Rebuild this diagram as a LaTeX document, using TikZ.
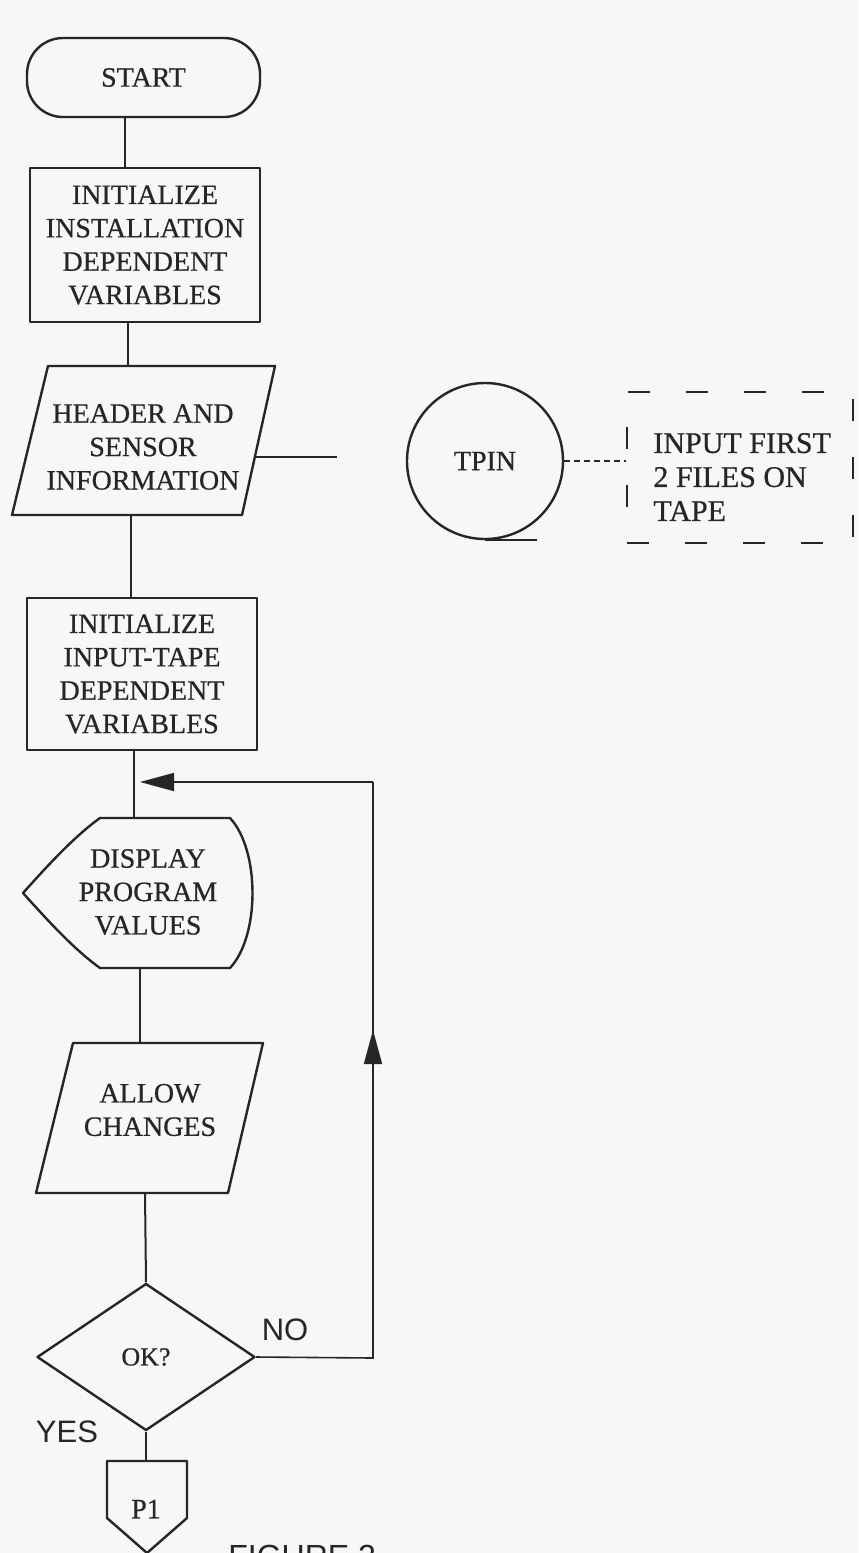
\documentclass[tikz,border=0pt]{standalone}
\usepackage{fontspec}
\setmainfont[FakeBold=0.6]{Liberation Serif}
\setsansfont{Liberation Sans}
\usetikzlibrary{shapes.geometric,arrows.meta,calc}
\newdimen\px \px=0.5pt
\definecolor{ink}{gray}{0.15}
\definecolor{paper}{gray}{0.97}

\begin{document}
\begin{tikzpicture}[x=0.5pt,y=-0.5pt,
  outline/.style={draw=ink, line width=1.2pt, line join=round},
  proc/.style={outline, rectangle, inner sep=0pt, align=center, text=ink,
    font=\fontsize{14}{16.7}\selectfont},
  txt/.style={inner sep=0pt, align=center, text=ink,
    font=\fontsize{14}{16.7}\selectfont},
  flow/.style={draw=ink, line width=1pt},
  loopline/.style={draw=ink, line width=0.8pt},
  tip/.style={-{Triangle[length=17pt,width=9pt]}},
  lbl/.style={inner sep=0pt, text=ink, font=\sffamily\fontsize{15.5}{18}\selectfont},
  notebox/.style={draw=ink, line width=1.1pt, dash pattern=on 11pt off 18pt,
    rectangle, inner sep=0pt}]

\useasboundingbox (0,0) rectangle (858,1553);
\clip (0,0) rectangle (858,1553);
\fill[paper] (0,0) rectangle (858,1553);

% terminal and first process box
\node[proc, minimum width=233\px, minimum height=79\px, rounded corners=36\px]
  (start) at (143.5,77.5) {START};
\node[proc, minimum width=230\px, minimum height=154\px]
  (init1) at (145,245) {INITIALIZE\\INSTALLATION\\DEPENDENT\\VARIABLES};

% input parallelogram: header and sensor information
\draw[outline] (48,366) -- (275,366) -- (242,515) -- (12,515) -- cycle;
\node[txt] (hdr) at (143,447) {HEADER AND\\SENSOR\\INFORMATION};

% tape symbol and its annotation
\node[outline, circle, minimum size=156\px, inner sep=0pt, text=ink,
  font=\fontsize{14}{16.7}\selectfont] (tpin) at (485,461) {TPIN};
\draw[outline] (tpin.south) -- ++(52,0);
\node[notebox, minimum width=226\px, minimum height=151\px] (note) at (740,467.5) {};
\node[txt, anchor=west, align=left, font=\fontsize{15}{17}\selectfont]
  (notetext) at (653,477) {INPUT FIRST\\2 FILES ON\\TAPE};
\draw[loopline, densely dashed] (tpin.east) -- (tpin.east -| note.west);

% second process box
\node[proc, minimum width=230\px, minimum height=152\px]
  (init2) at (142,674) {INITIALIZE\\INPUT-TAPE\\DEPENDENT\\VARIABLES};

% display symbol
\draw[outline] (100,818) -- (230,818)
  .. controls (260,850) and (260,936) .. (230,968) -- (100,968)
  .. controls (72,948) and (42,914) .. (23,893)
  .. controls (42,872) and (72,838) .. (100,818) -- cycle;
\node[txt] (disp) at (148,892) {DISPLAY\\PROGRAM\\VALUES};

% manual input parallelogram
\draw[outline] (73,1043) -- (263,1043) -- (228,1193) -- (36,1193) -- cycle;
\node[txt] (allow) at (150,1110) {ALLOW\\CHANGES};

% decision
\node[outline, diamond, aspect=1.48, minimum width=218\px, minimum height=147\px,
  inner sep=0pt, text=ink, font=\fontsize{13}{15}\selectfont] (ok) at (146,1357) {OK?};
\node[lbl] (no) at (285,1330) {NO};
\node[lbl] (yes) at (67,1432) {YES};

% off-page connector
\draw[outline] (107,1461) -- (187,1461) -- (187,1518) -- (147,1553) -- (107,1518) -- cycle;
\node[txt] (p1) at (146,1509) {P1};

\node[lbl, anchor=north west, font=\sffamily\fontsize{16}{18}\selectfont]
  (caption) at (228,1545) {FIGURE 2};

% ports on the main flow line
\coordinate (start-s) at (125,117);
\coordinate (init1-n) at (125,168);
\coordinate (init1-s) at (128,322);
\coordinate (hdr-n)   at (128,366);
\coordinate (hdr-s)   at (131,515);
\coordinate (hdr-e)   at (255,457);
\coordinate (hdr-link) at (337,457);
\coordinate (init2-n) at (131,598);
\coordinate (init2-s) at (134,750);
\coordinate (disp-n)  at (134,818);
\coordinate (disp-s)  at (140,968);
\coordinate (allow-n) at (140,1043);
\coordinate (allow-s) at (145,1193);
\coordinate (p1-n)    at (146,1461);

% return path of the loop
\coordinate (loop-b) at (373,1358);
\coordinate (loop-m) at (373,1030);
\coordinate (loop-t) at (373,782);
\coordinate (join)   at (140,782);

% main flow
\draw[flow] (start-s) -- (init1-n);
\draw[flow] (init1-s) -- (hdr-n);
\draw[flow] (hdr-e) -- (hdr-link);
\draw[flow] (hdr-s) -- (init2-n);
\draw[flow] (init2-s) -- (disp-n);
\draw[flow] (disp-s) -- (allow-n);
\draw[flow] (allow-s) -- (ok.north);
\draw[flow] (ok.south) -- (p1-n);

% NO branch back to the display step
\draw[loopline] (ok.east) -- (loop-b) -- (loop-t);
\draw[loopline, tip] (loop-b) -- (loop-m);
\draw[loopline, tip] (loop-t) -- (join);

\end{tikzpicture}
\end{document}
